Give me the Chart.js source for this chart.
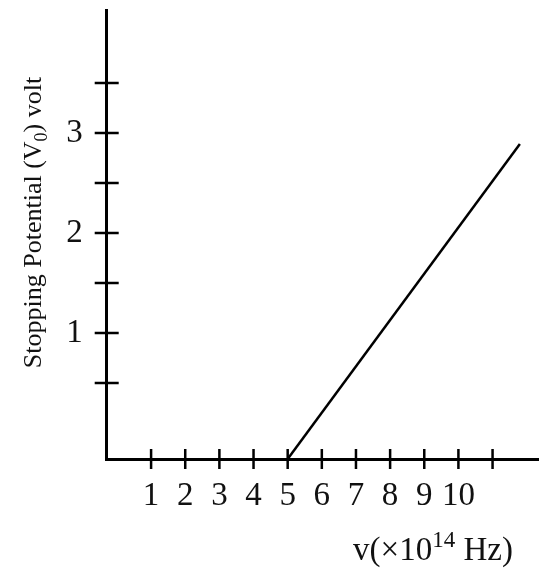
<!DOCTYPE html>
<html>
<head>
<meta charset="utf-8">
<script src="https://cdn.jsdelivr.net/npm/chart.js@4/dist/chart.umd.min.js"></script>
<style>
  html, body { margin: 0; padding: 0; background: #fff; }
  canvas { display: block; }
</style>
</head>
<body>
<canvas id="myChart" width="539" height="574"></canvas>
<script>
// values
var freqTicks = [1, 2, 3, 4, 5, 6, 7, 8, 9, 10, 11];
var freqLabels = ['1', '2', '3', '4', '5', '6', '7', '8', '9', '10', ''];
var voltTicks = [0.5, 1, 1.5, 2, 2.5, 3, 3.5];
var voltLabels = ['', '1', '', '2', '', '3', ''];
var freq = [5.0, 11.8];      // x 10^14 Hz
var stopV = [-0.26, 2.89];   // volt (starts on the frequency axis)

var serif = "'Liberation Serif', 'DejaVu Serif', serif";

// draws a row of text pieces (for super/subscripts), centred on x
function drawPieces(ctx, pieces, x, y) {
  var total = 0;
  pieces.forEach(function (p) {
    ctx.font = p.size + 'px ' + serif;
    p.w = ctx.measureText(p.t).width;
    total += p.w;
  });
  var cx = x - total / 2;
  pieces.forEach(function (p) {
    ctx.font = p.size + 'px ' + serif;
    ctx.fillText(p.t, cx, y + (p.dy || 0));
    cx += p.w;
  });
}

var axisBits = {
  id: 'axisBits',
  afterDraw: function (chart) {
    var ctx = chart.ctx, a = chart.chartArea;
    var xs = chart.scales.x, ys = chart.scales.y;
    ctx.save();
    ctx.strokeStyle = '#000';
    ctx.lineWidth = 2.5;
    ctx.beginPath();
    freqTicks.forEach(function (v) {
      var px = xs.getPixelForValue(v);
      ctx.moveTo(px, a.bottom - 10);
      ctx.lineTo(px, a.bottom + 10);
    });
    voltTicks.forEach(function (v) {
      var py = ys.getPixelForValue(v);
      ctx.moveTo(a.left - 12, py);
      ctx.lineTo(a.left + 12, py);
    });
    ctx.stroke();

    ctx.fillStyle = '#111';
    ctx.textBaseline = 'alphabetic';
    ctx.textAlign = 'left';
    // x title
    drawPieces(ctx, [
      { t: 'v(\u00d710', size: 33 },
      { t: '14', size: 23, dy: -13 },
      { t: ' Hz)', size: 33 }
    ], a.right - 106, a.bottom + 101);

    // y title, rotated
    ctx.translate(a.left - 66, (a.top + a.bottom) / 2 - 12);
    ctx.rotate(-Math.PI / 2);
    drawPieces(ctx, [
      { t: 'Stopping Potential (V', size: 26 },
      { t: '0', size: 18, dy: 6 },
      { t: ') volt', size: 26 }
    ], 0, 0);
    ctx.restore();
  }
};

var ctx = document.getElementById('myChart').getContext('2d');

new Chart(ctx, {
  type: 'scatter',
  data: {
    datasets: [
      {
        label: 'Stopping potential',
        data: freq.map(function (f, i) { return { x: f, y: stopV[i] }; }),
        showLine: true,
        fill: false,
        borderColor: '#000',
        borderWidth: 2.5,
        pointRadius: 0,
        tension: 0
      }
    ]
  },
  options: {
    responsive: false,
    animation: false,
    devicePixelRatio: 1,
    layout: { padding: { top: 10, left: 0, right: 0, bottom: 0 } },
    plugins: {
      legend: { display: false },
      tooltip: { enabled: false }
    },
    scales: {
      x: {
        type: 'linear',
        min: -0.3,
        max: 12.36,
        afterFit: function (scale) {
          scale.height = 115;
          scale.paddingLeft = 0;
          scale.paddingRight = 0;
        },
        afterBuildTicks: function (scale) {
          scale.ticks = freqTicks.map(function (v) { return { value: v }; });
        },
        grid: { display: false, drawTicks: false },
        border: { display: true, color: '#000', width: 3 },
        ticks: {
          padding: 18,
          autoSkip: false,
          maxRotation: 0,
          color: '#111',
          font: { family: serif, size: 33 },
          callback: function (v) {
            var i = freqTicks.indexOf(v);
            return i >= 0 ? freqLabels[i] : '';
          }
        }
      },
      y: {
        type: 'linear',
        min: -0.26,
        max: 4.23,
        afterFit: function (scale) {
          scale.width = 106.7;
          scale.paddingTop = 0;
          scale.paddingBottom = 0;
        },
        afterBuildTicks: function (scale) {
          scale.ticks = voltTicks.map(function (v) { return { value: v }; });
        },
        grid: { display: false, drawTicks: false },
        border: { display: true, color: '#000', width: 3 },
        ticks: {
          padding: 24,
          autoSkip: false,
          color: '#111',
          font: { family: serif, size: 33 },
          callback: function (v) {
            var i = voltTicks.indexOf(v);
            return i >= 0 ? voltLabels[i] : '';
          }
        }
      }
    }
  },
  plugins: [axisBits]
});
</script>
</body>
</html>
